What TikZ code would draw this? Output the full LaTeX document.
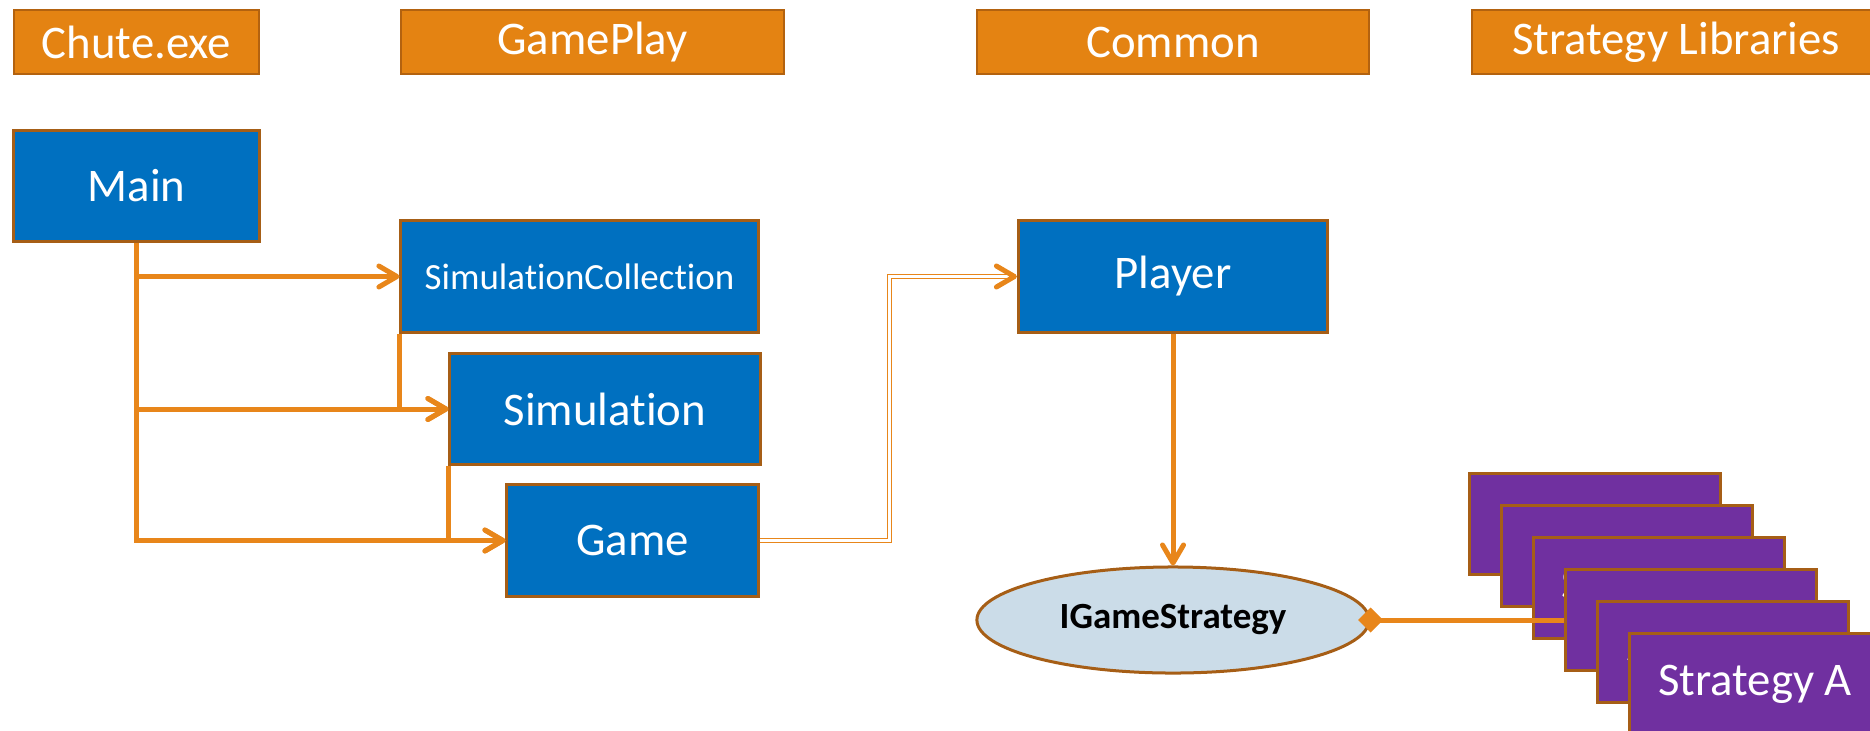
\documentclass[tikz,border=0pt]{standalone}
\usepackage{fontspec}
\setmainfont{Carlito}[Ligatures=CommonOff]
\usepackage{tikz}
\usetikzlibrary{shapes.geometric}
\usetikzlibrary{arrows.meta}
\definecolor{hdrorange}{HTML}{E48312}
\definecolor{hdredge}{HTML}{B3620F}
\definecolor{clsblue}{HTML}{0070C0}
\definecolor{libpurple}{HTML}{7030A0}
\definecolor{edgebrown}{HTML}{A65E16}
\definecolor{ifacefill}{HTML}{CBDCE8}
\definecolor{linkorange}{HTML}{E8861A}

\begin{document}
\begin{tikzpicture}[x=0.01cm,y=-0.01cm,
	header node/.style={draw=hdredge, fill=hdrorange, text=white, line width=0.02cm, minimum height=0.64cm, inner sep=0pt, font=\fontsize{13.3}{16}\selectfont},
	class node/.style={draw=edgebrown, fill=clsblue, text=white, line width=0.03cm, minimum height=1.11cm, inner sep=0pt, font=\fontsize{13.3}{16}\selectfont},
	lib node/.style={draw=edgebrown, fill=libpurple, text=white, line width=0.03cm, minimum width=2.5cm, minimum height=1cm, inner sep=0pt, font=\fontsize{13.3}{16}\selectfont},
	uses/.style={draw=linkorange, line width=0.05cm, -{Straight Barb[length=0.18cm,width=0.21cm,round]}}]
			\useasboundingbox (0,0) rectangle (1870,730);
			\clip (0,0) rectangle (1870,730);
			% Headers
			\node[header node, minimum width=2.45cm] (exe) at (136.5,42) {Chute.exe};
			\node[header node, minimum width=3.83cm] (gameplay) at (592.5,42) {GamePlay};
			\node[header node, minimum width=3.92cm] (common) at (1173,42) {Common};
			\node[header node, minimum width=4.08cm] (libs) at (1676,42) {Strategy Libraries};
			
			% Nodes
			\node[class node, minimum width=2.45cm] (main) at (136.5,186) {Main};
			\node[class node, minimum width=3.57cm, font=\fontsize{10.5}{13}\selectfont] (simcoll) at (579.5,276.5) {SimulationCollection};
			\node[class node, minimum width=3.10cm] (sim) at (605,409) {Simulation};
			\node[class node, minimum width=2.51cm] (game) at (632.5,540.5) {Game};
			\node[class node, minimum width=3.09cm] (player) at (1173,276.5) {Player};
			\node[ellipse, draw=edgebrown, fill=ifacefill, line width=0.03cm, minimum width=3.92cm, minimum height=1.06cm, inner sep=0pt, font=\fontsize{10.5}{13}\selectfont\bfseries] (igs) at (1173,620) {IGameStrategy};
			
			%\node[lib node] (s1) [below right of=libs] {Strategy F};
			\node[lib node] (s1) at (1595,524) {Strategy F};
			\node[lib node] (s2) at (1627,556) {Strategy E};
			\node[lib node] (s3) at (1659,588) {Strategy D};
			\node[lib node] (s4) at (1691,620) {Strategy C};
			\node[lib node] (s5) at (1723,652) {Strategy B};
			\node[lib node] (s6) at (1755,684) {Strategy A};
			
			% Links
			\draw[uses] (main.south) |- (simcoll.west);
			\draw[uses] (main.south) |- (sim.west);
			\draw[uses] (main.south) |- (game.west);
			\draw[uses] (simcoll.south west) |- (sim.west);
			\draw[uses] (sim.south west) |- (game.west);
			\draw[uses] (player.south) -- (igs.north);
			
			\draw[draw=linkorange, line width=0.018cm, double=white, double distance=0.022cm, -{Straight Barb[length=0.18cm,width=0.21cm,round,line width=0.05cm]}]
			(game.east) -- ++(130,0) |- (player.west);
			
			\draw[draw=linkorange, line width=0.05cm, {Diamond[length=0.25cm,width=0.25cm]}-, shorten <=-0.125cm] (igs.east) -- (s4.west);
			
		\end{tikzpicture}
\end{document}
